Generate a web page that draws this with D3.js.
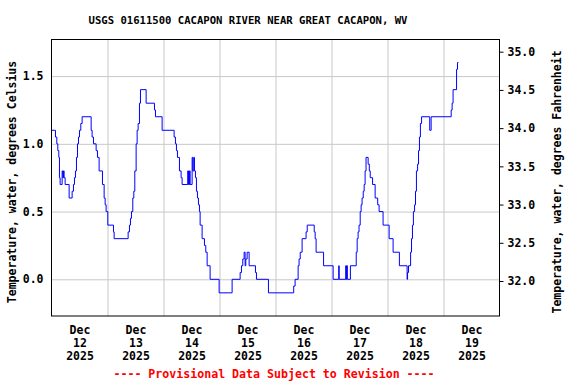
<!DOCTYPE html>
<html>
  <head>
    <title>USGS 01611500 Cacapon River near Great Cacapon, WV</title>
    <script src="https://d3js.org/d3.v7.min.js"></script>
    <style>
      body { margin: 0; background: #fff; }
      text { font-family: "DejaVu Sans Mono", monospace; font-weight: bold; fill: #000; }
      .grid line { stroke: #c8c8c8; stroke-width: 1; }
      .grid path { display: none; }
    </style>
  </head>
  <body>
    <script>
      var width = 576;
      var height = 384;
      var plot = {left: 51.5, right: 499.5, top: 39.5, bottom: 316};

      // hours after Dec 12 2025 00:00 where the reading changes, and the reading (deg C)
      var obsHours = [0, 1.7, 2.27, 2.7, 3.13, 3.41, 3.7, 4.56, 4.84, 5.13, 5.41, 5.84, 7.56, 8.84, 9.41, 9.84,
        10.27, 10.7, 11.13, 11.56, 11.99, 12.56, 13.13, 16.99, 17.41, 17.99, 19.13, 19.7, 20.41, 21.84, 22.56,
        22.99, 23.41, 24.13, 26.56, 26.84, 32.84, 33.41, 33.84, 34.27, 34.84, 35.27, 35.7, 36.27, 36.7, 37.13,
        37.7, 38.13, 40.56, 44.13, 44.56, 47.41, 52.55, 53.12, 53.55, 53.98, 54.84, 55.55, 55.98, 58.41, 58.6,
        58.8, 59.0, 59.2, 59.4, 60.27, 60.55, 60.98, 61.27, 61.7, 62.12, 62.55, 62.98, 63.41, 63.7, 64.55, 65.55,
        66.12, 66.7, 67.98, 71.84, 77.41, 80.84, 81.41, 81.98, 82.55, 82.98, 83.27, 83.84, 84.7, 87.41, 87.84,
        92.98, 103.8, 104.4, 105.7, 106.1, 106.6, 107.4, 109.1, 109.6, 112.6, 113.0, 113.4, 116.6, 120.7, 123.1,
        123.3, 126.1, 126.3, 126.5, 126.8, 128.1, 130.6, 131.0, 131.4, 131.8, 132.3, 132.7, 133.1, 133.6, 134.0,
        134.4, 134.8, 135.7, 136.2, 136.6, 137.6, 138.7, 139.8, 140.4, 142.1, 144.7, 146.4, 149.1, 152.4, 152.6,
        153.0, 153.9, 154.3, 154.7, 155.1, 155.6, 156.0, 156.4, 156.9, 157.3, 157.7, 158.1, 158.6, 162.1, 162.7,
        171.3, 171.7, 172.1, 173.6, 174.0, 174.4];
      var tempC = [1.1, 1.05, 1.0, 0.95, 0.9, 0.75, 0.7, 0.8, 0.75, 0.8, 0.75, 0.7, 0.6, 0.65, 0.7, 0.75,
        0.8, 0.9, 1.0, 1.05, 1.1, 1.15, 1.2, 1.1, 1.05, 1.0, 0.95, 0.9, 0.8, 0.7, 0.6,
        0.55, 0.5, 0.4, 0.35, 0.3, 0.35, 0.4, 0.45, 0.5, 0.6, 0.65, 0.8, 1.0, 1.1, 1.15,
        1.3, 1.4, 1.3, 1.25, 1.2, 1.1, 1.05, 1.0, 0.95, 0.9, 0.8, 0.75, 0.7, 0.8, 0.7,
        0.8, 0.7, 0.8, 0.7, 0.9, 0.8, 0.9, 0.8, 0.75, 0.65, 0.6, 0.55, 0.5, 0.4, 0.3, 0.25,
        0.2, 0.1, 0.0, -0.1, 0.0, 0.05, 0.1, 0.15, 0.2, 0.1, 0.15, 0.2, 0.1, 0.05, 0.0,
        -0.1, -0.05, 0.0, 0.1, 0.15, 0.2, 0.3, 0.35, 0.4, 0.35, 0.3, 0.2, 0.1, 0.0, 0.1,
        0.0, 0.1, 0.0, 0.1, 0.0, 0.1, 0.2, 0.3, 0.35, 0.4, 0.5, 0.55, 0.6, 0.65, 0.7,
        0.8, 0.9, 0.85, 0.8, 0.75, 0.7, 0.6, 0.55, 0.5, 0.4, 0.3, 0.2, 0.1, 0.0, 0.05,
        0.1, 0.2, 0.3, 0.4, 0.5, 0.55, 0.65, 0.8, 0.85, 0.95, 1.05, 1.15, 1.2, 1.1, 1.2,
        1.25, 1.3, 1.4, 1.55, 1.6, 1.6];

      var dayLabels = ["12", "13", "14", "15", "16", "17", "18", "19"];
      var celsiusTicks = [0, 0.5, 1.0, 1.5];
      var fahrenheitTicks = [32.0, 32.5, 33.0, 33.5, 34.0, 34.5, 35.0];

      var start = new Date(2025, 11, 12, 0, 0);
      var hourMs = 3600 * 1000;
      var data = obsHours.map(function(h, i) { return {t: new Date(start.getTime() + h * hourMs), v: tempC[i]}; });

      var svg = d3.select("body")
        .append("svg")
        .attr("width", width)
        .attr("height", height);

      var xScale = d3.scaleTime()
        .domain([start, new Date(2025, 11, 20, 0, 0)])
        .range([plot.left, plot.right]);

      var yScale = d3.scaleLinear()
        .domain([0, 1.5])
        .range([279.3, 76.1]);

      var yScaleF = d3.scaleLinear()
        .domain([32, 35])
        .range([281, 51.7]);

      var midnights = d3.range(1, 8).map(function(d) { return new Date(2025, 11, 12 + d, 0, 0); });
      var noons = dayLabels.map(function(d, i) { return new Date(2025, 11, 12 + i, 12, 0); });

      // grid
      svg.append("g")
        .attr("class", "grid")
        .attr("transform", `translate(0,${plot.bottom})`)
        .call(d3.axisBottom(xScale).tickValues(midnights).tickSize(-(plot.bottom - plot.top)).tickFormat(""));

      svg.append("g")
        .attr("class", "grid")
        .attr("transform", `translate(${plot.left},0)`)
        .call(d3.axisLeft(yScale).tickValues(celsiusTicks).tickSize(-(plot.right - plot.left)).tickFormat(""));

      var line = d3.line()
        .x(function(d) { return xScale(d.t); })
        .y(function(d) { return yScale(d.v); })
        .curve(d3.curveStepAfter);

      svg.append("path")
        .datum(data)
        .attr("fill", "none")
        .attr("stroke", "#0000ff")
        .attr("stroke-width", 1)
        .attr("d", line);

      // frame
      svg.append("rect")
        .attr("x", plot.left)
        .attr("y", plot.top)
        .attr("width", plot.right - plot.left)
        .attr("height", plot.bottom - plot.top)
        .attr("fill", "none")
        .attr("stroke", "#000")
        .attr("stroke-width", 1);

      // left axis labels
      var yAxis = svg.append("g")
        .attr("transform", `translate(${plot.left},0)`)
        .call(d3.axisLeft(yScale).tickValues(celsiusTicks).tickSize(0).tickPadding(8).tickFormat(d3.format(".1f")));
      yAxis.select(".domain").remove();
      yAxis.selectAll("text").attr("font-size", "11.5px").attr("font-family", null);

      // right axis
      var yAxisF = svg.append("g")
        .attr("transform", `translate(${plot.right},0)`)
        .call(d3.axisRight(yScaleF).tickValues(fahrenheitTicks).tickSize(4).tickPadding(4).tickFormat(d3.format(".1f")));
      yAxisF.select(".domain").remove();
      yAxisF.selectAll("line").attr("stroke", "#000");
      yAxisF.selectAll("text").attr("font-size", "11.5px").attr("font-family", null);

      // date labels
      var xAxis = svg.append("g")
        .attr("transform", `translate(0,${plot.bottom})`)
        .call(d3.axisBottom(xScale).tickValues(noons).tickSize(0).tickFormat(""));
      xAxis.select(".domain").remove();
      xAxis.selectAll(".tick").each(function(d, i) {
        var t = d3.select(this).append("text")
          .attr("text-anchor", "middle")
          .attr("font-size", "11.5px");
        t.append("tspan").attr("x", 0).attr("y", 18).text("Dec");
        t.append("tspan").attr("x", 0).attr("y", 30.7).text(dayLabels[i]);
        t.append("tspan").attr("x", 0).attr("y", 44).text("2025");
      });

      svg.append("text")
        .attr("x", 248)
        .attr("y", 24)
        .attr("text-anchor", "middle")
        .attr("font-size", "10.6px")
        .text("USGS 01611500 CACAPON RIVER NEAR GREAT CACAPON, WV");

      svg.append("text")
        .attr("transform", "translate(16,182) rotate(-90)")
        .attr("text-anchor", "middle")
        .attr("font-size", "11.5px")
        .text("Temperature, water, degrees Celsius");

      svg.append("text")
        .attr("transform", "translate(561,182) rotate(-90)")
        .attr("text-anchor", "middle")
        .attr("font-size", "11.5px")
        .text("Temperature, water, degrees Fahrenheit");

      svg.append("text")
        .attr("x", 274)
        .attr("y", 378)
        .attr("text-anchor", "middle")
        .attr("font-size", "11.6px")
        .style("fill", "#ff0000")
        .text("---- Provisional Data Subject to Revision ----");
    </script>
  </body>
</html>
